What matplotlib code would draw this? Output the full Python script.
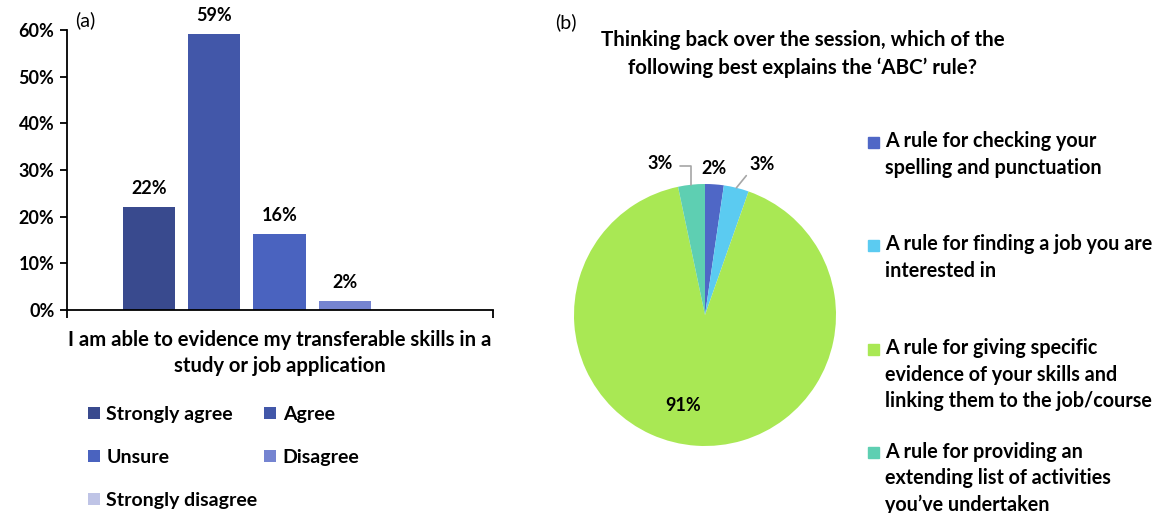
import numpy as np
import matplotlib
matplotlib.use("Agg")
import matplotlib.pyplot as plt
from matplotlib.patches import Rectangle

plt.rcParams['font.family'] = ['Lato', 'DejaVu Sans']

# panel (a) data
bar_cats = ['Strongly agree', 'Agree', 'Unsure', 'Disagree', 'Strongly disagree']
bar_vals = [22.1, 59.1, 16.3, 1.9, 0.0]
bar_cols = ['#394A8E', '#4257A9', '#4A63BF', '#7584D1', '#BFC4E6']
bar_question = 'I am able to evidence my transferable skills in a\nstudy or job application'
y_ticks = [0, 10, 20, 30, 40, 50, 60]

# panel (b) data
pie_cats = ['A rule for checking your\nspelling and punctuation',
            'A rule for finding a job you are\ninterested in',
            'A rule for giving specific\nevidence of your skills and\nlinking them to the job/course',
            'A rule for providing an\nextending list of activities\nyou\u2019ve undertaken']
pie_vals = [2.3, 3.1, 91.3, 3.3]
pie_cols = ['#4F67C6', '#5BCBF1', '#A9E854', '#5ECFB2']
pie_title = 'Thinking back over the session, which of the\nfollowing best explains the \u2018ABC\u2019 rule?'

W, H = 1161, 513
fig = plt.figure(figsize=(W / 100, H / 100), dpi=100)


def px(x, y):
    # pixel coords (top-left origin) -> figure fraction
    return x / W, 1 - y / H


# ---------- (a) bar chart ----------
ax1 = fig.add_axes([67 / W, (H - 310) / H, 426 / W, 280 / H])
xs = np.arange(len(bar_vals))
bars = ax1.bar(xs, bar_vals, width=0.8, color=bar_cols)
for b, v in zip(bars, bar_vals):
    if v > 0:
        ax1.annotate(f'{v:.0f}%', (b.get_x() + b.get_width() / 2, v),
                     xytext=(0, 7), textcoords='offset points',
                     ha='center', va='bottom', fontsize=13, fontweight='bold')
ax1.set_xlim(-1.256, 5.27)
ax1.set_ylim(0, 60)
ax1.set_yticks(y_ticks)
ax1.set_yticklabels([f'{t}%' for t in y_ticks], fontsize=13, fontweight='bold')
ax1.set_xticks(ax1.get_xlim())
ax1.set_xticklabels([])
ax1.tick_params(axis='y', length=5, width=1.3, pad=4)
ax1.tick_params(axis='x', length=6, width=1.3)
for s in ['top', 'right']:
    ax1.spines[s].set_visible(False)
ax1.spines['left'].set_linewidth(1.3)
ax1.spines['bottom'].set_linewidth(1.3)
ax1.set_xlabel(bar_question, fontsize=14.6, fontweight='bold', labelpad=5, linespacing=1.35)

fig.text(*px(75, 20), '(a)', fontsize=14, ha='left', va='center')

order = [0, 2, 4, 1, 3]
fig.legend([bars[i] for i in order], [bar_cats[i] for i in order],
           loc='upper left', bbox_to_anchor=px(88, 406), ncol=2, frameon=False,
           prop={'size': 14, 'weight': 'bold'}, handlelength=0.6, handleheight=0.6,
           handletextpad=0.35, labelspacing=1.33, columnspacing=0.35, borderpad=0,
           borderaxespad=0)

# ---------- (b) pie chart ----------
cx, cy, r = 705, 315, 131
ax2 = fig.add_axes([(cx - r) / W, (H - cy - r) / H, 2 * r / W, 2 * r / H])
wedges, _ = ax2.pie(pie_vals, colors=pie_cols, startangle=90, counterclock=False,
                    radius=1, wedgeprops=dict(linewidth=0))
ax2.set_xlim(-1, 1)
ax2.set_ylim(-1, 1)
ax2.set_aspect('equal')
ax2.axis('off')

mids = [np.deg2rad((w.theta1 + w.theta2) / 2) for w in wedges]
labels = [f'{v:.0f}%' for v in pie_vals]
lead = '#A6A6A6'
lab_kw = dict(fontsize=13, fontweight='bold', ha='center', va='center')
# 2% directly above its wedge
ax2.text(1.12 * np.cos(mids[0]) - 0.01, 1.12, labels[0], **lab_kw)
# 3% right with leader line
ax2.annotate(labels[1], xy=(np.cos(mids[1]), np.sin(mids[1])), xytext=(0.44, 1.15),
             arrowprops=dict(arrowstyle='-', color=lead, lw=1.2, relpos=(0, 0.1),
                             shrinkA=1, shrinkB=0), **lab_kw)
# 91% inside
ax2.text(-0.17, -0.69, labels[2], **lab_kw)
# 3% left with elbow leader
ax2.annotate(labels[3], xy=(np.cos(mids[3]), np.sin(mids[3])), xytext=(-0.34, 1.16),
             arrowprops=dict(arrowstyle='-', color=lead, lw=1.2, relpos=(1, 0.3),
                             connectionstyle='angle,angleA=0,angleB=90,rad=0',
                             shrinkA=3, shrinkB=0), **lab_kw)

fig.text(*px(555, 22), '(b)', fontsize=14, ha='left', va='center')
fig.text(*px(803, 54), pie_title, fontsize=14.8, fontweight='bold',
         ha='center', va='center', linespacing=1.5)

for i, (lab, col) in enumerate(zip(pie_cats, pie_cols)):
    ytop = 142 + i * 103.5
    fig.patches.append(Rectangle(px(868, ytop + 5.5), 11 / W, 11 / H,
                                 transform=fig.transFigure, color=col, figure=fig))
    fig.text(*px(885, ytop - 11), lab, fontsize=14.2, fontweight='bold',
             ha='left', va='top', linespacing=1.42)

fig.savefig('out.png', dpi=100)
